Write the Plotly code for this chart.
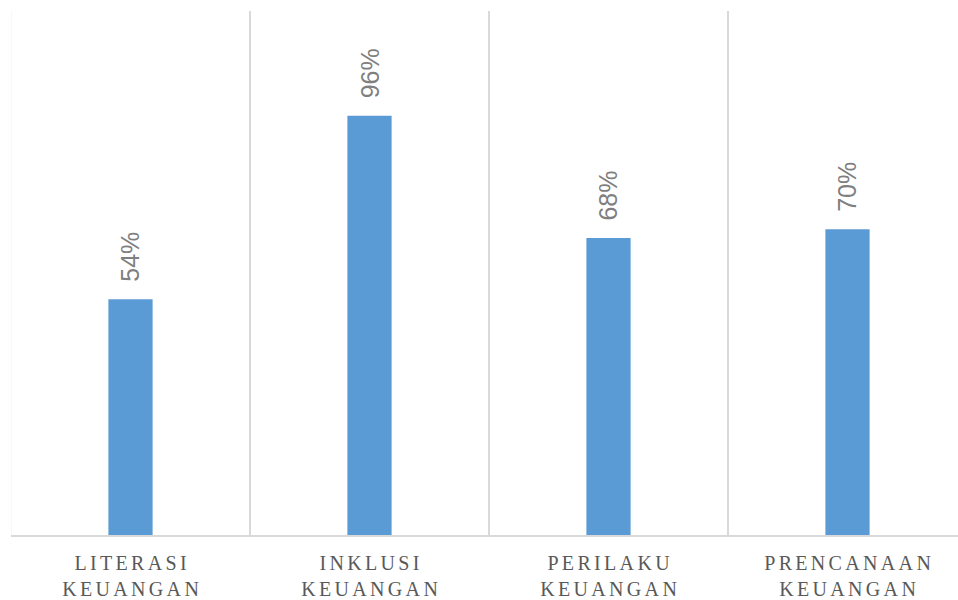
import plotly.graph_objects as go

categories = ["LITERASI<br>KEUANGAN", "INKLUSI<br>KEUANGAN", "PERILAKU<br>KEUANGAN", "PRENCANAAN<br>KEUANGAN"]
values = [0.54, 0.96, 0.68, 0.70]
labels = ["54%", "96%", "68%", "70%"]

def spaced(s):
    return "<br>".join("\u2006".join(list(line)) for line in s.split("<br>"))

tick_text = [spaced(c) for c in categories]

fig = go.Figure()
fig.add_trace(go.Bar(
    x=list(range(len(categories))), y=values,
    marker=dict(color="#5B9BD5", line=dict(width=0)),
    width=0.185,
))
for i, (v, t) in enumerate(zip(values, labels)):
    fig.add_annotation(x=i, y=v, text=t, textangle=-90, showarrow=False,
                       yanchor="bottom", xanchor="center", yshift=15,
                       font=dict(family="Liberation Sans", size=25, color="#7F7F7F"))

fig.update_layout(
    width=958, height=600,
    margin=dict(l=11, r=0, t=11, b=62),
    plot_bgcolor="white", paper_bgcolor="white",
    showlegend=False,
    xaxis=dict(
        range=[-0.5, 3.5 - 9/239],
        tickmode="array", tickvals=list(range(len(categories))), ticktext=tick_text,
        showgrid=False, zeroline=False,
        showline=True, linecolor="#D9D9D9", linewidth=2,
        tickfont=dict(family="Liberation Serif", size=20, color="#595959"),
        ticks="", ticklabelstandoff=9,
    ),
    yaxis=dict(range=[0, 1.2], showgrid=False, zeroline=False, showticklabels=False, ticks=""),
)
for b in [0.5, 1.5, 2.5]:
    fig.add_shape(type="line", xref="x", yref="paper", x0=b, x1=b, y0=0, y1=1,
                  line=dict(color="#D9D9D9", width=2), layer="below")
fig.add_shape(type="line", xref="x", yref="paper", x0=-0.5, x1=-0.5, y0=0, y1=1,
              line=dict(color="#F2F2F2", width=1), layer="below")

fig.write_html("out.html")
